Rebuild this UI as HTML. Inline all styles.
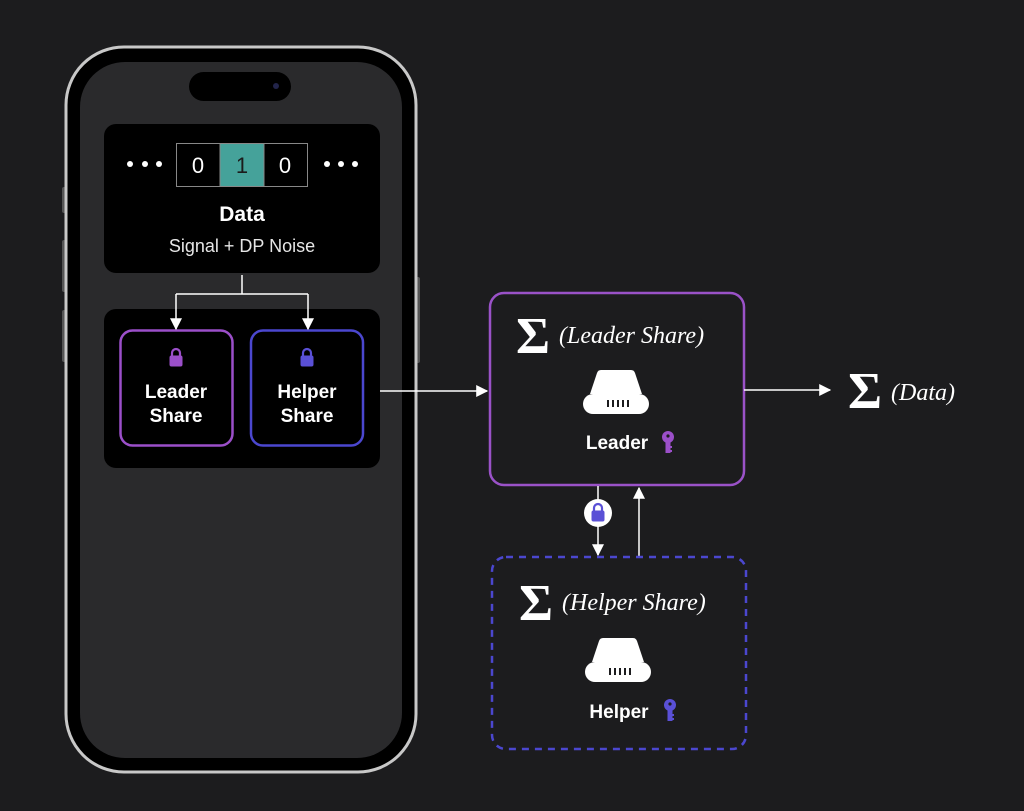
<!DOCTYPE html>
<html><head><meta charset="utf-8"><style>
html,body{margin:0;padding:0;background:#1c1c1e;}
svg{display:block}
.s{font-family:"Liberation Sans",sans-serif;fill:#fff}
.i{font-family:"Liberation Serif",serif;font-style:italic;fill:#fff}
.g{font-family:"Liberation Serif",serif;fill:#fff;font-weight:bold}
</style></head><body>
<svg width="1024" height="811" viewBox="0 0 1024 811" xmlns="http://www.w3.org/2000/svg">
<defs>
<marker id="ah" viewBox="0 0 10 10" refX="9" refY="5" markerWidth="12" markerHeight="12" markerUnits="userSpaceOnUse" orient="auto"><path d="M0,0 L10,5 L0,10 z" fill="#fff"/></marker>
<g id="lock"><path d="M-4,-1 v-3 a4,4 0 0 1 8,0 v3" fill="none" stroke-width="2.2" stroke="inherit"/><rect x="-6" y="-1" width="12" height="10" rx="1.5"/></g>
<g id="srv"><path d="M-15,-27 h30 q3,0 4,3 l7,21 h-52 l7,-21 q1,-3 4,-3 z" fill="#fff"/><rect x="-33" y="-3" width="66" height="20" rx="10" fill="#fff"/><g fill="#1c1c1e"><rect x="-9" y="3" width="2" height="7"/><rect x="-4" y="3" width="2" height="7"/><rect x="1" y="3" width="2" height="7"/><rect x="6" y="3" width="2" height="7"/><rect x="11" y="3" width="2" height="7"/></g></g>
</defs>
<rect width="1024" height="811" fill="#1c1c1e"/>
<!-- phone -->
<rect x="62" y="187" width="5" height="26" rx="2" fill="#555"/>
<rect x="62" y="240" width="5" height="52" rx="2" fill="#555"/>
<rect x="62" y="310" width="5" height="52" rx="2" fill="#555"/>
<rect x="415" y="277" width="5" height="86" rx="2" fill="#555"/>
<rect x="66" y="47" width="350" height="725" rx="58" fill="#000" stroke="#c8c8c8" stroke-width="3"/>
<rect x="80" y="62" width="322" height="696" rx="45" fill="#2a2a2c"/>
<rect x="189" y="72" width="102" height="29" rx="14.5" fill="#000"/>
<circle cx="276" cy="86" r="3" fill="#22244a"/>
<!-- data box -->
<rect x="104" y="124" width="276" height="149" rx="12" fill="#000"/>
<rect x="220" y="143" width="44" height="43" fill="#45a29a"/>
<rect x="176.5" y="143.5" width="131" height="43" fill="none" stroke="#888" stroke-width="1"/>
<line x1="220" y1="143" x2="220" y2="186" stroke="#888"/><line x1="264" y1="143" x2="264" y2="186" stroke="#888"/>
<text x="198" y="173" class="s" font-size="22" text-anchor="middle">0</text>
<text x="242" y="173" class="s" font-size="22" text-anchor="middle" style="fill:#1b1b1b">1</text>
<text x="285" y="173" class="s" font-size="22" text-anchor="middle">0</text>
<g fill="#fff"><circle cx="130" cy="164" r="3"/><circle cx="145" cy="164" r="3"/><circle cx="159" cy="164" r="3"/><circle cx="327" cy="164" r="3"/><circle cx="341" cy="164" r="3"/><circle cx="355" cy="164" r="3"/></g>
<text x="242" y="221" class="s" font-size="21" font-weight="bold" text-anchor="middle">Data</text>
<text x="242" y="252" class="s" font-size="18" text-anchor="middle" style="fill:#e6e6e6">Signal + DP Noise</text>
<!-- shares -->
<rect x="104" y="309" width="276" height="159" rx="12" fill="#000"/>
<rect x="120.5" y="330.5" width="112" height="115" rx="12" fill="#000" stroke="#9b4fc9" stroke-width="2.5"/>
<rect x="251" y="330.5" width="112" height="115" rx="12" fill="#000" stroke="#4b47cf" stroke-width="2.5"/>
<!-- split -->
<path d="M242,275 V294 M176,294 H308" stroke="#fff" stroke-width="1.5" fill="none"/>
<line x1="176" y1="294" x2="176" y2="329" stroke="#fff" stroke-width="1.5" marker-end="url(#ah)"/>
<line x1="308" y1="294" x2="308" y2="329" stroke="#fff" stroke-width="1.5" marker-end="url(#ah)"/>
<g transform="translate(176,357)" fill="#9b4fc9" stroke="#9b4fc9"><use href="#lock"/></g>
<g transform="translate(307,357)" fill="#5a50d6" stroke="#5a50d6"><use href="#lock"/></g>
<text x="176" y="398" class="s" font-size="19" font-weight="bold" text-anchor="middle">Leader</text>
<text x="176" y="422" class="s" font-size="19" font-weight="bold" text-anchor="middle">Share</text>
<text x="307" y="398" class="s" font-size="19" font-weight="bold" text-anchor="middle">Helper</text>
<text x="307" y="422" class="s" font-size="19" font-weight="bold" text-anchor="middle">Share</text>
<line x1="380" y1="391" x2="487" y2="391" stroke="#fff" stroke-width="1.5" marker-end="url(#ah)"/>
<!-- leader -->
<rect x="490" y="293" width="254" height="192" rx="14" fill="#1c1c1e" stroke="#9a52c8" stroke-width="2.5"/>
<text x="516" y="353" class="g" font-size="52">Σ</text>
<text x="559" y="343" class="i" font-size="24">(Leader Share)</text>
<g transform="translate(616,397)"><use href="#srv"/></g>
<text x="617" y="449" class="s" font-size="19" font-weight="bold" text-anchor="middle">Leader</text>
<g transform="translate(668,437)" fill="#9b4fc9"><circle cx="0" cy="0" r="6"/><rect x="-2.5" y="2" width="5" height="14"/><rect x="0" y="9" width="4" height="2"/><rect x="0" y="13" width="4" height="2"/><circle cx="0" cy="-1" r="1.6" fill="#1c1c1e"/></g>
<line x1="744" y1="390" x2="830" y2="390" stroke="#fff" stroke-width="1.5" marker-end="url(#ah)"/>
<text x="848" y="408" class="g" font-size="52">Σ</text>
<text x="891" y="400" class="i" font-size="24">(Data)</text>
<!-- between -->
<line x1="598" y1="486" x2="598" y2="555" stroke="#fff" stroke-width="1.5" marker-end="url(#ah)"/>
<circle cx="598" cy="513" r="14" fill="#fff"/>
<g transform="translate(598,512)" fill="#5a50d6" stroke="#5a50d6"><use href="#lock"/></g>
<line x1="639" y1="556" x2="639" y2="488" stroke="#fff" stroke-width="1.5" marker-end="url(#ah)"/>
<!-- helper -->
<rect x="492" y="557" width="254" height="192" rx="14" fill="none" stroke="#4b47cf" stroke-width="2.5" stroke-dasharray="7,6"/>
<text x="519" y="620" class="g" font-size="52">Σ</text>
<text x="562" y="610" class="i" font-size="24">(Helper Share)</text>
<g transform="translate(618,665)"><use href="#srv"/></g>
<text x="619" y="718" class="s" font-size="19" font-weight="bold" text-anchor="middle">Helper</text>
<g transform="translate(670,705)" fill="#5a50d6"><circle cx="0" cy="0" r="6"/><rect x="-2.5" y="2" width="5" height="14"/><rect x="0" y="9" width="4" height="2"/><rect x="0" y="13" width="4" height="2"/><circle cx="0" cy="-1" r="1.6" fill="#1c1c1e"/></g>
</svg>
</body></html>
